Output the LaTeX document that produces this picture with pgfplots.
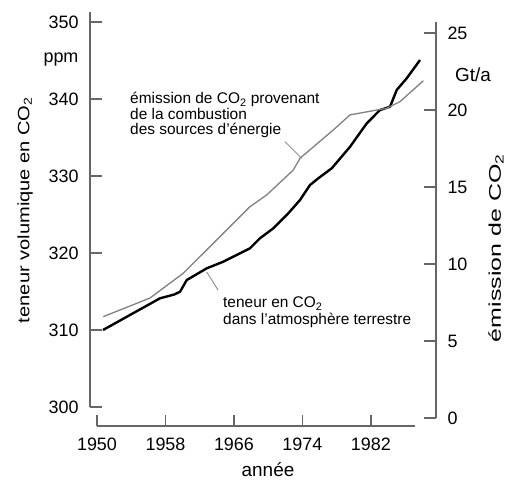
\documentclass[border=0pt]{standalone}
\usepackage{fontspec}
\setmainfont{Liberation Sans}
\usepackage{pgfplots}
\pgfplotsset{compat=1.18}
\definecolor{axgray}{gray}{0.4}
\definecolor{emgray}{gray}{0.5}
\begin{document}
\begin{tikzpicture}
\useasboundingbox (0,0) rectangle (506bp,482bp);
% left axis: CO2 concentration (ppm)
\begin{axis}[at={(90bp,75bp)}, anchor=south west, scale only axis,
  width=346bp, height=395bp,
  xmin=1949.18, xmax=1989.60, ymin=300, ymax=351.3,
  axis x line=none, axis y line*=left,
  y axis line style={-, axgray, line width=1.8bp},
  ytick={300,310,320,330,340,350},
  yticklabels={300,310,320,330,340,350},
  yticklabel style={font=\fontsize{18}{18}\selectfont, xshift=-8bp},
  tick align=inside, major tick length=12bp,
  ytick style={axgray, line width=1.6bp}, clip=false]
\addplot[black, line width=2.4bp, line join=round] coordinates {
(1950.70,310.0) (1957.36,314.12) (1959.00,314.6) (1959.70,314.97) (1960.48,316.49)
(1962.82,318.01) (1964.75,318.87) (1967.87,320.61) (1969.04,321.91)
(1970.60,323.21) (1972.35,325.16) (1973.71,326.88) (1974.88,328.83)
(1975.85,329.70) (1977.42,331.0) (1979.56,333.8) (1981.51,336.84)
(1983.06,338.57) (1984.23,339.0) (1985.01,341.17) (1986.18,342.69)
(1987.73,345.06)};
\end{axis}
% right axis: emission (Gt/a)
\begin{axis}[at={(90bp,64bp)}, anchor=south west, scale only axis,
  width=346bp, height=396bp,
  xmin=1949.18, xmax=1989.60, ymin=0, ymax=25.71,
  axis x line=none, axis y line*=right,
  y axis line style={-, axgray, line width=1.8bp},
  ytick={0,5,10,15,20,25},
  yticklabels={0,5,10,15,20,25},
  yticklabel style={font=\fontsize{18}{18}\selectfont, xshift=8bp},
  tick align=inside, major tick length=12bp,
  ytick style={axgray, line width=1.6bp}, clip=false]
\addplot[emgray, line width=1.3bp, line join=round] coordinates {
(1950.74,6.58) (1956.19,7.79) (1960.08,9.40) (1963.98,11.56) (1967.87,13.72)
(1969.82,14.48) (1972.93,16.10) (1973.71,16.86) (1977.60,18.70)
(1979.56,19.68) (1983.84,20.11) (1985.40,20.54) (1988.12,21.90)};
\end{axis}
% bottom axis: year
\begin{axis}[at={(97bp,56bp)}, anchor=south west, scale only axis,
  width=318bp, height=10bp,
  xmin=1950, xmax=1987.15, ymin=0, ymax=1,
  axis y line=none, axis x line*=bottom,
  x axis line style={-, axgray, line width=1.8bp},
  xtick={1950,1958,1966,1974,1982},
  xticklabels={1950,1958,1966,1974,1982},
  xticklabel style={font=\fontsize{18}{18}\selectfont, yshift=-8bp},
  tick align=inside, major tick length=11bp,
  xtick style={axgray, line width=1.6bp}]
\end{axis}
% texts
\node[font=\fontsize{18}{18}\selectfont] at (61bp,422bp) {ppm};
\node[font=\fontsize{19}{19}\selectfont] at (473bp,407bp) {Gt/a};
\node[font=\fontsize{19}{19}\selectfont] at (268bp,12bp) {année};
\node[rotate=90] at (25bp,272bp) {\resizebox{226bp}{\height}{\fontsize{16.5}{18}\selectfont teneur volumique en CO\textsubscript{2}}};
\node[rotate=90] at (496bp,234bp) {\resizebox{188bp}{\height}{\fontsize{17}{18}\selectfont émission de CO\textsubscript{2}}};
\begin{scope}[every node/.style={anchor=base west, inner sep=0pt, font=\fontsize{15.5}{15.5}\selectfont}]
\node at (130bp,378.5bp) {émission de CO\textsubscript{2} provenant};
\node at (130bp,362bp) {de la combustion};
\node at (130bp,347.5bp) {des sources d'énergie};
\node at (223bp,174bp) {teneur en CO\textsubscript{2}};
\node at (223bp,157bp) {dans l'atmosphère terrestre};
\end{scope}
\draw[emgray, line width=0.8bp] (285bp,340.3bp) -- (301.7bp,323.7bp);
\draw[emgray, line width=0.8bp] (206.7bp,210bp) -- (218bp,192bp);
\end{tikzpicture}
\end{document}
